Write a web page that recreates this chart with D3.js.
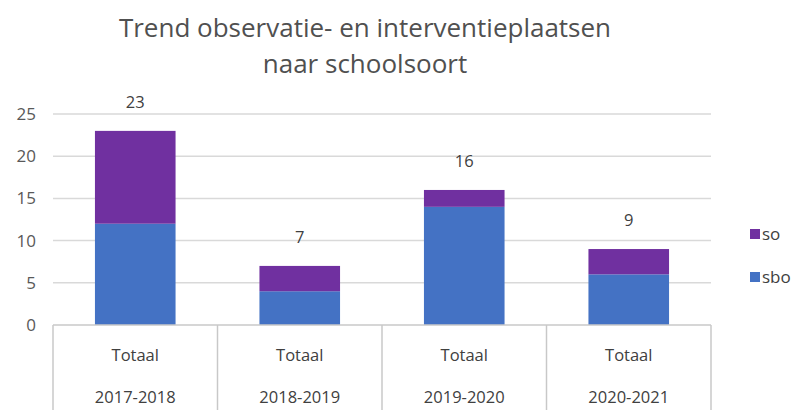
<!DOCTYPE html>
<html><head><meta charset="utf-8">
<script src="https://cdn.jsdelivr.net/npm/d3@7"></script>
<style>body{margin:0;background:#fff}svg{display:block}</style>
</head><body>
<svg id="c" width="798" height="410"></svg>
<script>
const categories = ["2017-2018","2018-2019","2019-2020","2020-2021"];
const groupLabel = "Totaal";
const sbo = [12, 4, 14, 6];
const so = [11, 3, 2, 3];
const totals = [23, 7, 16, 9];
const yTicks = [0,5,10,15,20,25];
const seriesNames = ["sbo","so"];
const colors = {sbo:"#4472C4", so:"#7030A0"};
const titleLines = ["Trend observatie- en interventieplaatsen","naar schoolsoort"];

const svg = d3.select("#c");
const font = "'Open Sans', 'Noto Sans', sans-serif";
const L=53, R=711, T=114, B=325;
const x = d3.scaleBand().domain(categories).range([L,R]).paddingInner(0).paddingOuter(0);
const y = d3.scaleLinear().domain([0,25]).range([B,T]);

// title
svg.append("g").selectAll("text").data(titleLines).join("text")
  .attr("x",365).attr("y",(d,i)=>37+i*36)
  .attr("text-anchor","middle").attr("font-family",font).attr("font-size",26)
  .attr("fill","#505050").text(d=>d);

// gridlines
svg.append("g").selectAll("line").data(yTicks.filter(t=>t>0)).join("line")
  .attr("x1",L).attr("x2",R).attr("y1",d=>y(d)).attr("y2",d=>y(d))
  .attr("stroke","#d9d9d9").attr("stroke-width",1.5);

// y labels
svg.append("g").selectAll("text").data(yTicks).join("text")
  .attr("x",36).attr("y",d=>y(d)+6).attr("text-anchor","end")
  .attr("font-family",font).attr("font-size",17).attr("fill","#595959").text(d=>d);

// stacked bars
const data = categories.map((c,i)=>({cat:c, sbo:sbo[i], so:so[i]}));
const stack = d3.stack().keys(seriesNames)(data);
const bw = x.bandwidth()*0.49;
svg.append("g").selectAll("g").data(stack).join("g").attr("fill",d=>colors[d.key])
  .selectAll("rect").data(d=>d).join("rect")
  .attr("x",d=>x(d.data.cat)+(x.bandwidth()-bw)/2).attr("width",bw)
  .attr("y",d=>y(d[1])).attr("height",d=>y(d[0])-y(d[1]));

// total labels
svg.append("g").selectAll("text").data(categories).join("text")
  .attr("x",d=>x(d)+x.bandwidth()/2).attr("y",(d,i)=>y(totals[i])-23)
  .attr("text-anchor","middle").attr("font-family",font).attr("font-size",16.5)
  .attr("fill","#404040").text((d,i)=>totals[i]);

// category axis boxes
const ax = svg.append("g").attr("stroke","#c8c8c8").attr("stroke-width",1.5);
ax.append("line").attr("x1",L).attr("x2",R).attr("y1",B).attr("y2",B);
const bounds = categories.map(c=>x(c)).concat([x(categories[categories.length-1])+x.bandwidth()]);
ax.selectAll(".v").data(bounds).join("line").attr("class","v")
  .attr("x1",d=>d).attr("x2",d=>d).attr("y1",B).attr("y2",410);

const lab = svg.append("g").attr("font-family",font).attr("font-size",16.5).attr("fill","#404040").attr("text-anchor","middle");
lab.selectAll(".t").data(categories).join("text").attr("class","t")
  .attr("x",d=>x(d)+x.bandwidth()/2).attr("y",361).text(groupLabel);
lab.selectAll(".c").data(categories).join("text").attr("class","c")
  .attr("x",d=>x(d)+x.bandwidth()/2).attr("y",403).text(d=>d);

// legend
const legendOrder = ["so","sbo"];
const lg = svg.append("g").selectAll("g").data(legendOrder).join("g")
  .attr("transform",(d,i)=>`translate(750,${234+i*43})`);
lg.append("rect").attr("x",0).attr("y",-5).attr("width",10).attr("height",10).attr("fill",d=>colors[d]);
lg.append("text").attr("x",12).attr("y",6).attr("font-family",font).attr("font-size",17)
  .attr("fill","#404040").text(d=>d);
</script>
</body></html>
